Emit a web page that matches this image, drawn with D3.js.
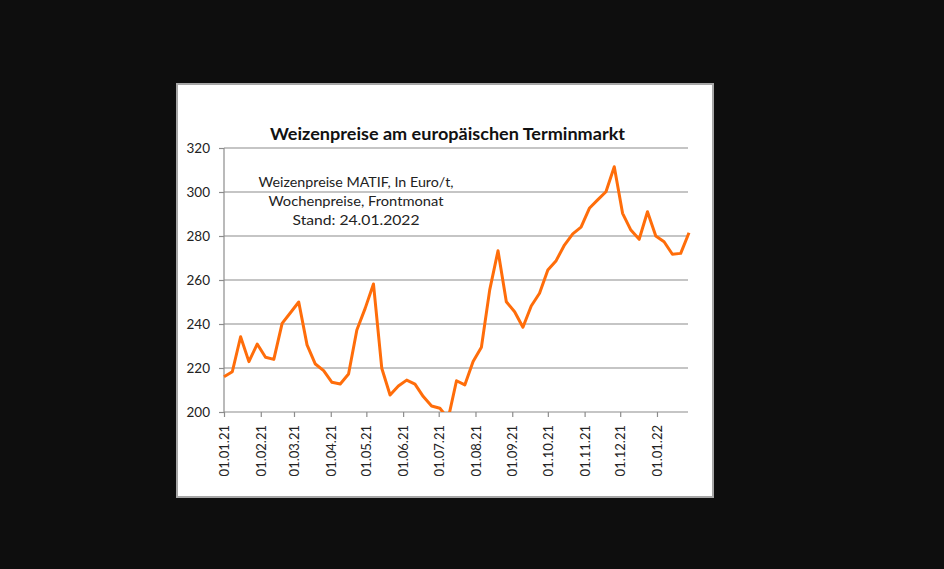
<!DOCTYPE html>
<html><head><meta charset="utf-8">
<script src="https://cdn.jsdelivr.net/npm/d3@7"></script>
<style>html,body{margin:0;padding:0;background:#0e0e0e;}svg{display:block;}</style>
</head><body>
<svg id="c" width="944" height="569"></svg>
<script>
const title = "Weizenpreise am europäischen Terminmarkt";
const noteLines = ["Weizenpreise MATIF, In Euro/t,", "Wochenpreise, Frontmonat", "Stand: 24.01.2022"];
const dates = ["2021-01-01","2021-01-08","2021-01-15","2021-01-22","2021-01-29","2021-02-05","2021-02-12","2021-02-19","2021-02-26","2021-03-05","2021-03-12","2021-03-19","2021-03-26","2021-04-02","2021-04-09","2021-04-16","2021-04-23","2021-04-30","2021-05-07","2021-05-14","2021-05-21","2021-05-28","2021-06-04","2021-06-11","2021-06-18","2021-06-25","2021-07-02","2021-07-09","2021-07-16","2021-07-23","2021-07-30","2021-08-06","2021-08-13","2021-08-20","2021-08-27","2021-09-03","2021-09-10","2021-09-17","2021-09-24","2021-10-01","2021-10-08","2021-10-15","2021-10-22","2021-10-29","2021-11-05","2021-11-12","2021-11-19","2021-11-26","2021-12-03","2021-12-10","2021-12-17","2021-12-24","2021-12-31","2022-01-07","2022-01-14","2022-01-21","2022-01-28"];
const prices = [216,218.3,234.2,222.9,230.9,224.9,223.9,240.3,245.1,250,230.5,221.8,218.8,213.5,212.7,217.3,237.3,247.1,258.2,219.9,207.7,211.8,214.5,212.7,207,202.7,201.7,197,214.2,212.3,222.9,229.4,255.5,273.3,250.1,245.6,238.5,248.2,254,264.5,268.8,275.9,281,284,292.6,296.4,300.1,311.5,290.3,282.7,278.5,291,280,277.4,271.7,272.1,281.5];
const yTicks = [200,220,240,260,280,300,320];
const xTickDates = ["2021-01-01","2021-02-01","2021-03-01","2021-04-01","2021-05-01","2021-06-01","2021-07-01","2021-08-01","2021-09-01","2021-10-01","2021-11-01","2021-12-01","2022-01-01"];

const parse = d3.timeParse("%Y-%m-%d");
const fmt = d3.timeFormat("%d.%m.%y");
const data = dates.map((d,i)=>({date:parse(d), v:prices[i]}));

const svg = d3.select("#c");
const font = "Lato, 'Open Sans', sans-serif";
const grid = "#8c8c8c";

// chart box
svg.append("rect").attr("x",177).attr("y",84).attr("width",536).attr("height",413)
  .attr("fill","#fff").attr("stroke","#a6a6a6").attr("stroke-width",2);

const x = d3.scaleTime().domain([data[0].date, data[data.length-1].date]).range([224, 689]);
const y = d3.scaleLinear().domain([200,320]).range([412,148]);

// gridlines
svg.append("g").selectAll("line").data(yTicks.filter(t=>t>200)).join("line")
  .attr("x1",224).attr("x2",x.range()[1]-1).attr("y1",d=>y(d)).attr("y2",d=>y(d))
  .attr("stroke",grid).attr("stroke-width",1.2);

// y axis
const ya = svg.append("g").attr("transform","translate(224,0)")
  .call(d3.axisLeft(y).tickValues(yTicks).tickSize(5).tickPadding(9).tickFormat(d3.format("d")));
ya.select(".domain").attr("stroke",grid).attr("stroke-width",1.2).attr("d","M0,"+y(320)+"V"+y(200));
ya.selectAll(".tick line").attr("stroke",grid).attr("stroke-width",1.2);
ya.selectAll("text").attr("fill","#222").style("font-family",font).style("font-size","13.5px");

// x axis
const xa = svg.append("g").attr("transform","translate(0,412)")
  .call(d3.axisBottom(x).tickValues(xTickDates.map(parse)).tickSize(5).tickFormat(fmt));
xa.select(".domain").attr("stroke",grid).attr("stroke-width",1.2).attr("d","M224,0H"+(x.range()[1]-1));
xa.selectAll(".tick line").attr("stroke",grid).attr("stroke-width",1.2);
xa.selectAll("text").attr("fill","#222").style("font-family",font).style("font-size","13px")
  .attr("transform","rotate(-90)").attr("text-anchor","end").attr("x",-13).attr("y",0).attr("dy","0.35em");

// clip
svg.append("clipPath").attr("id","pc").append("rect").attr("x",220).attr("y",140).attr("width",480).attr("height",272);

svg.append("path").datum(data).attr("clip-path","url(#pc)")
  .attr("fill","none").attr("stroke","#ff6d0a").attr("stroke-width",3).attr("stroke-linejoin","round")
  .attr("d", d3.line().x(d=>x(d.date)).y(d=>y(d.v)));

// title
svg.append("text").attr("x",447.5).attr("y",140).attr("text-anchor","middle")
  .attr("textLength",355).attr("lengthAdjust","spacingAndGlyphs")
  .style("font-family",font).style("font-weight","bold").style("font-size","17.5px").attr("fill","#111").text(title);

// note
const noteW = [195,175,127];
svg.append("g").selectAll("text").data(noteLines).join("text")
  .attr("x",356).attr("y",(d,i)=>[187,206,225][i]).attr("text-anchor","middle")
  .attr("textLength",(d,i)=>noteW[i]).attr("lengthAdjust","spacingAndGlyphs")
  .style("font-family",font).style("font-size","14px").attr("fill","#222").text(d=>d);
</script>
</body></html>
